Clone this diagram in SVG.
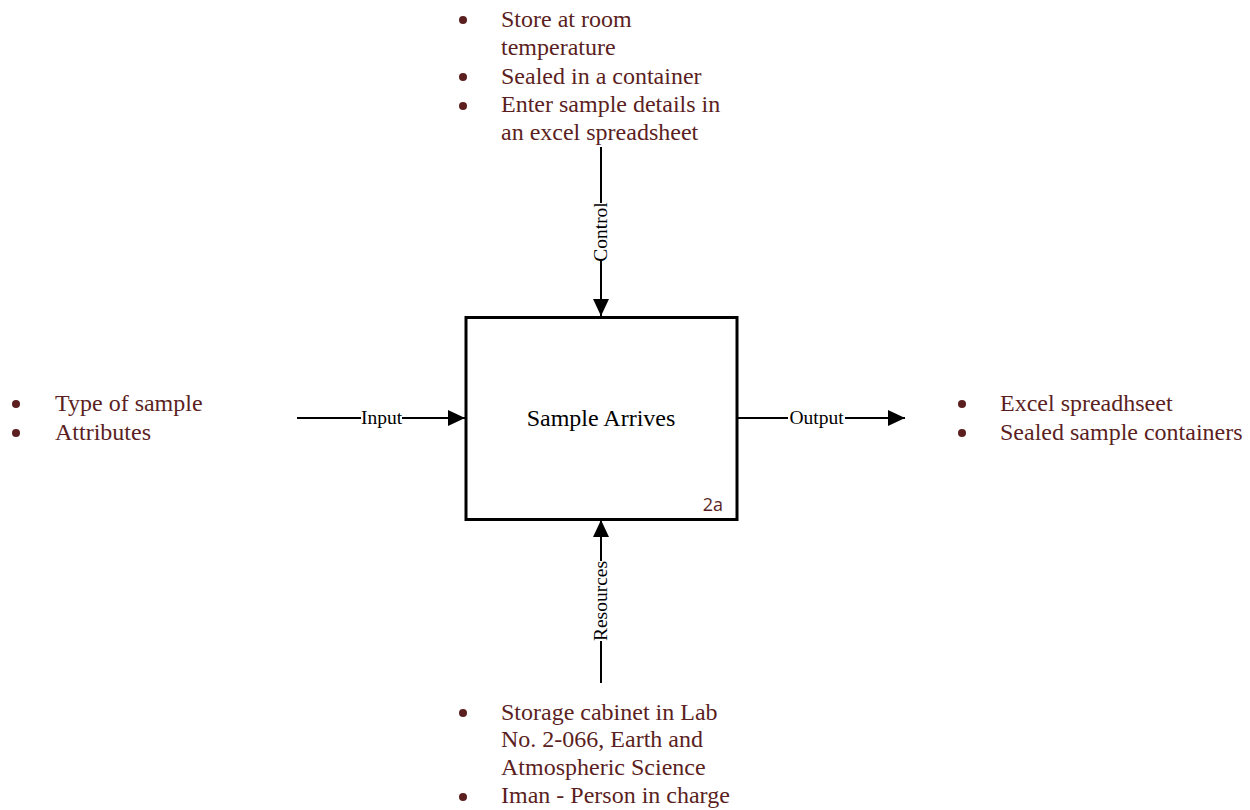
<svg xmlns="http://www.w3.org/2000/svg" width="1250" height="810" viewBox="0 0 1250 810">
  <style>
    .note { font-family: "Liberation Serif", "Times New Roman", serif; font-size: 24px; fill: #5b1f1f; }
    .lbl { font-family: "Liberation Serif", "Times New Roman", serif; font-size: 19.5px; fill: #000; }
    .title { font-family: "Liberation Serif", "Times New Roman", serif; font-size: 24px; fill: #000; }
    .num { font-family: "Open Sans", "Liberation Sans", sans-serif; font-size: 18px; fill: #5b1f1f; }
    .wire { stroke: #000; stroke-width: 2; fill: none; }
    .dot { fill: #5b1f1f; }
  </style>
  <defs>
    <marker id="arrow" viewBox="0 0 17 16" refX="17" refY="8" markerWidth="17" markerHeight="16" markerUnits="userSpaceOnUse" orient="auto">
      <path d="M0,0 L17,8 L0,16 Z" fill="#000"/>
    </marker>
  </defs>
  <rect width="1250" height="810" fill="#fff"/>

  <!-- activity box -->
  <g id="activity">
    <rect x="466" y="317.5" width="271" height="202" fill="#fff" stroke="#000" stroke-width="3"/>
    <text class="title" x="601" y="426" text-anchor="middle">Sample Arrives</text>
    <text class="num" x="723" y="511" text-anchor="end">2a</text>
  </g>

  <!-- ICOM connectors -->
  <g id="connectors">
    <!-- control -->
    <line class="wire" x1="601" y1="147" x2="601" y2="203"/>
    <path class="wire" d="M601,260 L601,316" marker-end="url(#arrow)"/>
    <text class="lbl" transform="translate(607,232) rotate(-90)" text-anchor="middle">Control</text>
    <!-- resources -->
    <line class="wire" x1="601" y1="683" x2="601" y2="641"/>
    <path class="wire" d="M601,561 L601,520" marker-end="url(#arrow)"/>
    <text class="lbl" transform="translate(607,601) rotate(-90)" text-anchor="middle">Resources</text>
    <!-- input -->
    <line class="wire" x1="297" y1="418" x2="361" y2="418"/>
    <path class="wire" d="M402,418 L465,418" marker-end="url(#arrow)"/>
    <text class="lbl" x="381.5" y="424" text-anchor="middle">Input</text>
    <!-- output -->
    <line class="wire" x1="738" y1="418" x2="788" y2="418"/>
    <path class="wire" d="M845,418 L905,418" marker-end="url(#arrow)"/>
    <text class="lbl" x="816.5" y="424" text-anchor="middle">Output</text>
  </g>

  <!-- control notes -->
  <g id="controls">
    <circle class="dot" cx="463" cy="20" r="4"/>
    <text class="note" x="501" y="27">Store at room</text>
    <text class="note" x="501" y="55">temperature</text>
    <circle class="dot" cx="463" cy="77" r="4"/>
    <text class="note" x="501" y="84">Sealed in a container</text>
    <circle class="dot" cx="463" cy="106" r="4"/>
    <text class="note" x="501" y="112">Enter sample details in</text>
    <text class="note" x="501" y="140">an excel spreadsheet</text>
  </g>

  <!-- input notes -->
  <g id="inputs">
    <circle class="dot" cx="16" cy="404" r="4"/>
    <text class="note" x="55" y="411">Type of sample</text>
    <circle class="dot" cx="16" cy="433" r="4"/>
    <text class="note" x="55" y="440">Attributes</text>
  </g>

  <!-- output notes -->
  <g id="outputs">
    <circle class="dot" cx="962" cy="404" r="4"/>
    <text class="note" x="1000" y="411">Excel spreadhseet</text>
    <circle class="dot" cx="962" cy="433" r="4"/>
    <text class="note" x="1000" y="440">Sealed sample containers</text>
  </g>

  <!-- resource notes -->
  <g id="resources">
    <circle class="dot" cx="463" cy="713" r="4"/>
    <text class="note" x="501" y="720">Storage cabinet in Lab</text>
    <text class="note" x="501" y="747">No. 2-066, Earth and</text>
    <text class="note" x="501" y="775">Atmospheric Science</text>
    <circle class="dot" cx="463" cy="797" r="4"/>
    <text class="note" x="501" y="803">Iman - Person in charge</text>
  </g>
</svg>
